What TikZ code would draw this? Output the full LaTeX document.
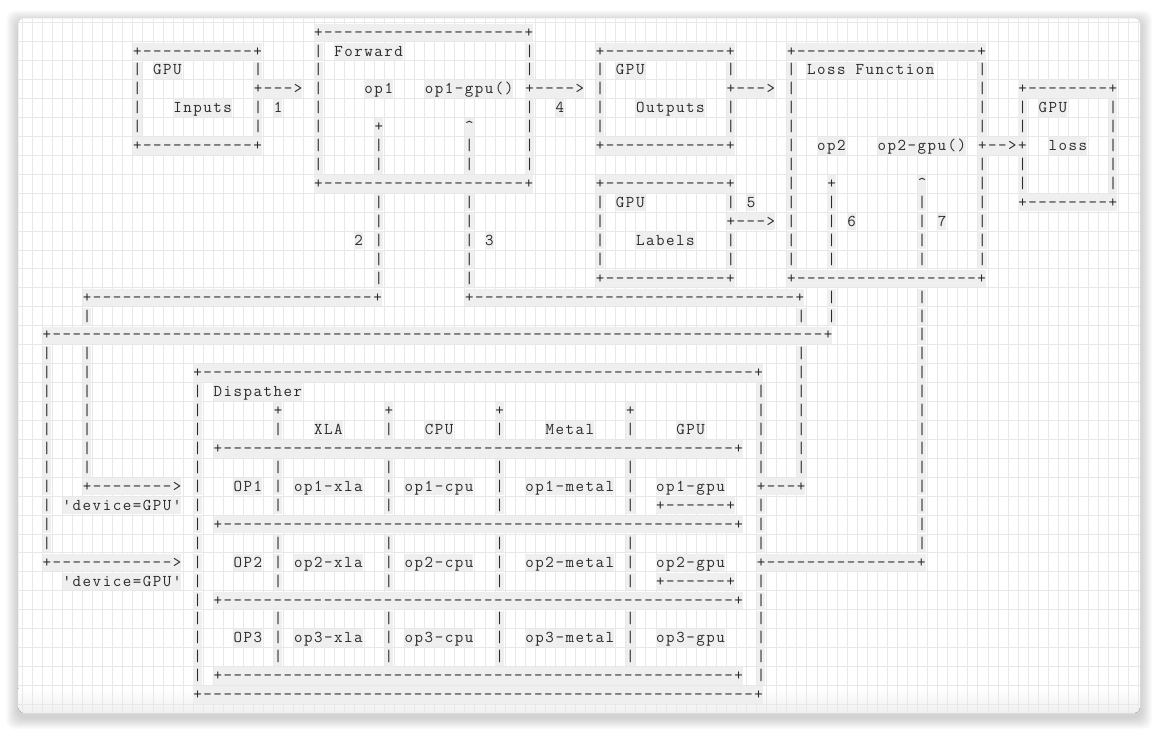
\documentclass[tikz,border=0pt]{standalone}
\usepackage{fontspec}
\setmonofont[LetterSpace=9.2]{Latin Modern Mono}
\definecolor{ink}{HTML}{2A2A2A}
\definecolor{cellbg}{HTML}{EFEFEF}
\definecolor{gridline}{HTML}{E8E8E8}
\newcommand\dashrun[1]{\foreach\k in {1,...,#1}{-}}
\tikzset{
  cell/.style={anchor=base west, inner sep=0pt, fill=cellbg, text=ink,
    text height=13.4pt, text depth=4pt,
    font=\ttfamily\fontsize{16.5pt}{19pt}\selectfont},
  gridln/.style={draw=gridline, line width=0.9pt},
}
\begin{document}
\begin{tikzpicture}[x=1pt, y=-1pt]
  \def\cw{10.06}
  \def\rh{18.93}
  \useasboundingbox (0,0) rectangle (1159,732);
  % card and its shadow
  \foreach \s in {1,...,12}
    \fill[black, opacity=0.016, rounded corners=8pt] (18.3-\s,18.3-\s+4) rectangle (1140+\s,713+\s+4);
  \fill[white, rounded corners=6pt] (18.3,18.3) rectangle (1140,713);
  \begin{scope}
    \clip[rounded corners=6pt] (18.3,18.3) rectangle (1140,713);
    \fill[top color=white, bottom color=black!6] (18.3,688) rectangle (1140,713);
    \foreach \k in {-3,...,108}
      \draw[gridln] ({52.4+\cw*\k},18) -- ({52.4+\cw*\k},713);
    \foreach \k in {-1,...,35}
      \draw[gridln] (18,{41.77+\rh*\k}) -- (1140,{41.77+\rh*\k});
  \end{scope}
  % the text rows, row/column/text
  \foreach \row/\col/\txt in {
    0/27/+\dashrun{20}+,
    1/9/+\dashrun{11}+, 1/27/|, 1/29/Forward, 1/48/|, 1/55/+\dashrun{12}+, 1/74/+\dashrun{18}+,
    2/9/|, 2/11/GPU, 2/21/|, 2/27/|, 2/48/|, 2/55/|, 2/57/GPU, 2/68/|, 2/74/|, 2/76/Loss Function, 2/93/|,
    3/9/|, 3/21/+--->, 3/27/|, 3/32/op1, 3/38/op1-gpu(), 3/48/+---->, 3/55/|, 3/68/+--->, 3/74/|, 3/93/|, 3/97/+\dashrun{8}+,
    4/9/|, 4/13/Inputs, 4/21/|, 4/23/1, 4/27/|, 4/48/|, 4/51/4, 4/55/|, 4/59/Outputs, 4/68/|, 4/74/|, 4/93/|, 4/97/|, 4/99/GPU, 4/106/|,
    5/9/|, 5/21/|, 5/27/|, 5/33/+, 5/42/\textasciicircum, 5/48/|, 5/55/|, 5/68/|, 5/74/|, 5/93/|, 5/97/|, 5/106/|,
    6/9/+\dashrun{11}+, 6/27/|, 6/33/|, 6/42/|, 6/48/|, 6/55/+\dashrun{12}+, 6/74/|, 6/77/op2, 6/83/op2-gpu(), 6/93/+-->+, 6/100/loss, 6/106/|,
    7/27/|, 7/33/|, 7/42/|, 7/48/|, 7/74/|, 7/93/|, 7/97/|, 7/106/|,
    8/27/+\dashrun{20}+, 8/55/+\dashrun{12}+, 8/74/|, 8/78/+, 8/87/\textasciicircum, 8/93/|, 8/97/|, 8/106/|,
    9/33/|, 9/42/|, 9/55/|, 9/57/GPU, 9/68/|, 9/70/5, 9/74/|, 9/78/|, 9/87/|, 9/93/|, 9/97/+\dashrun{8}+,
    10/33/|, 10/42/|, 10/55/|, 10/68/+--->, 10/74/|, 10/78/|, 10/80/6, 10/87/|, 10/89/7, 10/93/|,
    11/31/2, 11/33/|, 11/42/|, 11/44/3, 11/55/|, 11/59/Labels, 11/68/|, 11/74/|, 11/78/|, 11/87/|, 11/93/|,
    12/33/|, 12/42/|, 12/55/|, 12/68/|, 12/74/|, 12/78/|, 12/87/|, 12/93/|,
    13/33/|, 13/42/|, 13/55/+\dashrun{12}+, 13/74/+\dashrun{18}+,
    14/4/+\dashrun{28}+, 14/42/+\dashrun{32}+, 14/78/|, 14/87/|,
    15/4/|, 15/75/|, 15/78/|, 15/87/|,
    16/0/+\dashrun{77}+, 16/87/|,
    17/0/|, 17/4/|, 17/75/|, 17/87/|,
    18/0/|, 18/4/|, 18/15/+\dashrun{55}+, 18/75/|, 18/87/|,
    19/0/|, 19/4/|, 19/15/|, 19/17/Dispather, 19/71/|, 19/75/|, 19/87/|,
    20/0/|, 20/4/|, 20/15/|, 20/23/+, 20/34/+, 20/45/+, 20/58/+, 20/71/|, 20/75/|, 20/87/|,
    21/0/|, 21/4/|, 21/15/|, 21/23/|, 21/27/XLA, 21/34/|, 21/38/CPU, 21/45/|, 21/50/Metal, 21/58/|, 21/63/GPU, 21/71/|, 21/75/|, 21/87/|,
    22/0/|, 22/4/|, 22/15/|, 22/17/+\dashrun{51}+, 22/71/|, 22/75/|, 22/87/|,
    23/0/|, 23/4/|, 23/15/|, 23/23/|, 23/34/|, 23/45/|, 23/58/|, 23/71/|, 23/75/|, 23/87/|,
    24/0/|, 24/4/+\dashrun{8}>, 24/15/|, 24/19/OP1, 24/23/|, 24/25/op1-xla, 24/34/|, 24/36/op1-cpu, 24/45/|, 24/48/op1-metal, 24/58/|, 24/61/op1-gpu, 24/71/+---+, 24/87/|,
    25/0/|, 25/2/'device=GPU', 25/15/|, 25/23/|, 25/34/|, 25/45/|, 25/58/|, 25/61/+\dashrun{6}+, 25/71/|, 25/87/|,
    26/0/|, 26/15/|, 26/17/+\dashrun{51}+, 26/71/|, 26/87/|,
    27/0/|, 27/15/|, 27/23/|, 27/34/|, 27/45/|, 27/58/|, 27/71/|, 27/87/|,
    28/0/+\dashrun{12}>, 28/15/|, 28/19/OP2, 28/23/|, 28/25/op2-xla, 28/34/|, 28/36/op2-cpu, 28/45/|, 28/48/op2-metal, 28/58/|, 28/61/op2-gpu, 28/71/+\dashrun{15}+,
    29/2/'device=GPU', 29/15/|, 29/23/|, 29/34/|, 29/45/|, 29/58/|, 29/61/+\dashrun{6}+, 29/71/|,
    30/15/|, 30/17/+\dashrun{51}+, 30/71/|,
    31/15/|, 31/23/|, 31/34/|, 31/45/|, 31/58/|, 31/71/|,
    32/15/|, 32/19/OP3, 32/23/|, 32/25/op3-xla, 32/34/|, 32/36/op3-cpu, 32/45/|, 32/48/op3-metal, 32/58/|, 32/61/op3-gpu, 32/71/|,
    33/15/|, 33/23/|, 33/34/|, 33/45/|, 33/58/|, 33/71/|,
    34/15/|, 34/17/+\dashrun{51}+, 34/71/|,
    35/15/+\dashrun{55}+}
    \node[cell] (t\row-\col) at ({42.37+\cw*\col},{37.1+\rh*\row}) {\txt};
\end{tikzpicture}
\end{document}
